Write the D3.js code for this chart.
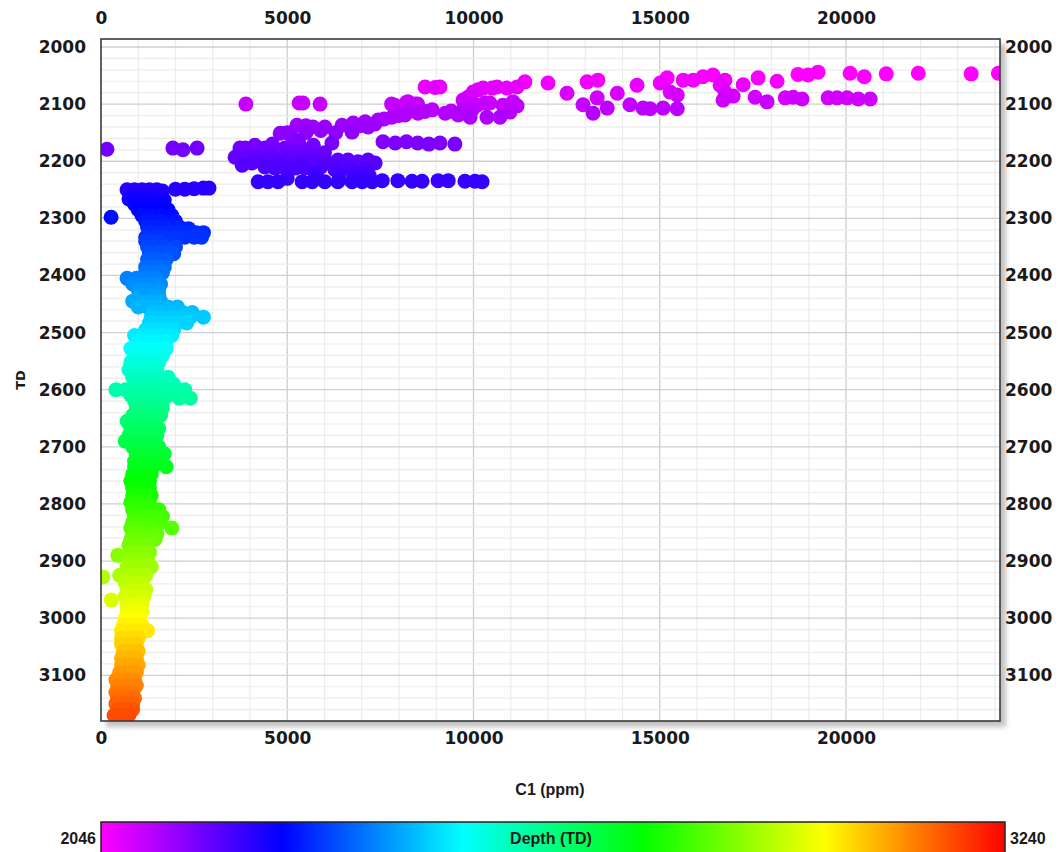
<!DOCTYPE html>
<html><head><meta charset="utf-8">
<script src="https://cdn.jsdelivr.net/npm/d3@7"></script>
<style>
html,body{margin:0;padding:0;background:#fff;overflow:hidden}
svg{display:block}
.tick text{font-family:"DejaVu Sans",Verdana,sans-serif;font-weight:bold;font-size:17px;fill:#1a1a1a}
</style></head><body>
<svg id="chart" width="1064" height="852"></svg>
<script>
// ---- Data (C1 ppm, TD) ----
const xTicks = [0, 5000, 10000, 15000, 20000];
const yTicks = [2000, 2100, 2200, 2300, 2400, 2500, 2600, 2700, 2800, 2900, 3000, 3100];
const colorDomain = [2046, 3240];
const xDomain = [0, 24134];
const yDomain = [1986, 3180];

const shallowPoints = [
  [8700,2070],[9100,2070],[8970,2071],[9720,2093],[9990,2079],[10260,2072],[10630,2070],[10900,2072],
  [11170,2070],[11380,2061],[9720,2110],[10100,2102],[10440,2098],[10790,2102],[11060,2096],
  [9910,2123],[10360,2123],[10710,2123],[10980,2114],[11170,2103],[12000,2063],[12510,2081],
  [13050,2061],[13340,2058],[12940,2101],[13320,2089],[13590,2107],[13210,2116],[13860,2081],
  [14390,2067],[14200,2101],[14550,2107],[14740,2108],[15010,2063],[15200,2054],[15280,2079],
  [15470,2084],[15090,2107],[15470,2108],[15630,2058],[15900,2058],[16160,2052],[16430,2049],
  [16620,2067],[16750,2079],[16750,2058],[17240,2066],[17640,2054],[18150,2060],[18710,2048],
  [18980,2049],[19250,2044],[20110,2046],[20490,2052],[21080,2047],[21940,2046],[23360,2047],
  [24090,2046],[16700,2093],[16970,2086],[17560,2088],[17880,2096],[18370,2089],[18580,2088],
  [18820,2091],[19520,2089],[19760,2089],[20030,2089],[20330,2091],[20650,2091],
  [3890,2100],[5320,2098],[5420,2098],[5880,2100],[7800,2100],[8200,2097],[8500,2100]
];

const bandPoints = [
  [4810,2151],[5260,2137],[5690,2140],[6010,2140],[6200,2168],[6470,2137],[6770,2133],[7090,2131],
  [7440,2128],[7810,2123],[8160,2119],[8510,2116],[8890,2110],[9240,2116],[9590,2119],[9960,2110],
  [10310,2098],[9850,2088],[10120,2075],[10500,2072],[7890,2102],[8240,2096],[8430,2100],
  [6740,2149],[7170,2140],[5500,2138],[5000,2150],[5900,2146],[6300,2150],[7600,2126],[8000,2120],
  [6950,2138],[7350,2135],[8300,2112],[8700,2113],[9400,2112],[5500,2150],
  [7570,2166],[7900,2168],[8200,2166],[8500,2168],[8800,2170],[9100,2168],[9500,2170],
  [3600,2193],[3730,2177],[3870,2177],[4130,2172],[4400,2177],[3790,2207],[4050,2203],[4200,2193],
  [4670,2180],[4940,2177],[5210,2184],[5480,2180],[4480,2198],[4750,2198],[5020,2198],[5290,2198],
  [5560,2198],[4400,2210],[4670,2212],[4940,2212],[5210,2212],[5480,2212],[5830,2193],[6100,2203],
  [6360,2198],[6630,2198],[6900,2201],[7170,2198],[7360,2203],[6280,2215],[6740,2215],[7090,2215],
  [5750,2221],[5000,2188],[5600,2186],[4550,2190],[4300,2200],[5300,2165],[5700,2172],[5150,2160],
  [3950,2190],[4800,2205],[5350,2205],[5900,2210],[6500,2208],[6000,2185],[5700,2200],[4600,2170],
  [4220,2236],[4480,2236],[4750,2236],[5400,2236],[5670,2236],[6010,2236],[6360,2236],[6740,2236],
  [7010,2236],[7280,2236],[7550,2234],[7970,2234],[8350,2235],[8620,2235],[9050,2234],[9320,2234],
  [9770,2235],[10040,2235],[10230,2236],[6400,2224],[6800,2224],[7200,2225],[5000,2230],[5800,2228],
  [160,2179],[1930,2177],[2200,2180],[2580,2177],
  [2000,2249],[2250,2249],[2500,2248],[2750,2247],[2900,2247]
];

const columnPoints = [
  [700,2250],[900,2250],[1100,2250],[1300,2250],[1500,2250],[1650,2252],
  [800,2258],[1050,2258],[1300,2258],[1550,2258],
  [750,2266],[1000,2266],[1250,2266],[1500,2266],[1700,2268],
  [900,2275],[1150,2275],[1400,2275],[1650,2275],
  [1000,2285],[1250,2285],[1500,2285],[1800,2285],
  [270,2298],[1100,2295],[1350,2295],[1600,2295],[1900,2295],
  [1200,2305],[1400,2305],[1650,2305],[2000,2305],
  [1250,2315],[1500,2315],[1750,2315],[2100,2315],[2350,2318],
  [1300,2325],[1550,2325],[1800,2325],[2050,2325],[2300,2325],[2550,2325],[2750,2325],
  [1200,2333],[1450,2333],[1700,2333],[2000,2333],[2250,2333],[2500,2333],[2700,2333],
  [1200,2340],[1400,2340],[1600,2340],
  [1250,2350],[1450,2350],[1700,2350],[2000,2350],
  [1300,2360],[1550,2360],[1800,2360],[1950,2362],
  [1250,2372],[1500,2372],[1750,2372],
  [1200,2385],[1450,2385],[1700,2385],
  [1200,2395],[1450,2395],[1650,2395],
  [700,2405],[950,2405],[1200,2405],[1450,2405],
  [850,2415],[1100,2415],[1350,2415],[1600,2415],
  [1000,2425],[1250,2425],[1550,2425],
  [1050,2435],[1300,2435],[1550,2435],
  [850,2445],[1100,2445],[1350,2445],[1600,2445],
  [1000,2455],[1250,2455],[1500,2455],[1800,2455],[2050,2455],
  [1400,2465],[1650,2465],[1900,2465],[2200,2465],[2450,2465],
  [1350,2473],[1600,2473],[1900,2473],[2150,2473],[2400,2473],[2750,2473],
  [1300,2483],[1550,2483],[1800,2483],[2050,2483],[2300,2483],
  [1200,2495],[1450,2495],[1700,2495],[1950,2495],
  [900,2505],[1150,2505],[1400,2505],[1650,2505],[1900,2505],
  [1000,2515],[1250,2515],[1500,2515],[1750,2515],
  [800,2528],[1050,2528],[1300,2528],[1550,2528],[1750,2528],
  [900,2540],[1150,2540],[1400,2540],[1650,2540],
  [800,2552],[1050,2552],[1300,2552],[1550,2552],
  [750,2565],[1000,2565],[1250,2565],[1500,2565],
  [850,2578],[1100,2578],[1350,2578],[1600,2578],[1800,2578],
  [900,2590],[1150,2590],[1400,2590],[1700,2590],[1950,2590],
  [400,2600],[650,2600],[900,2600],[1150,2600],[1400,2600],[1700,2600],[1950,2600],[2250,2600],
  [800,2610],[1050,2610],[1300,2610],[1550,2610],[1800,2610],
  [900,2620],[1150,2620],[1400,2620],[1650,2620],[2100,2615],[2400,2615],
  [950,2632],[1200,2632],[1450,2632],[1650,2632],
  [850,2645],[1100,2645],[1350,2645],[1600,2645],
  [700,2655],[950,2655],[1200,2655],[1450,2655],
  [800,2668],[1050,2668],[1300,2668],[1550,2668],
  [750,2680],[1000,2680],[1250,2680],[1500,2680],
  [650,2690],[900,2690],[1150,2690],[1400,2690],
  [850,2700],[1100,2700],[1350,2700],[1550,2700],
  [950,2712],[1200,2712],[1450,2712],[1700,2712],
  [900,2725],[1150,2725],[1400,2725],[1650,2725],
  [900,2735],[1150,2735],[1400,2735],[1750,2735],
  [850,2748],[1100,2748],[1350,2748],
  [800,2760],[1050,2760],[1300,2760],
  [850,2772],[1100,2772],[1300,2772],
  [850,2785],[1100,2785],[1350,2785],
  [800,2797],[1050,2797],[1300,2797],
  [850,2810],[1100,2810],[1350,2810],[1550,2810],
  [900,2822],[1150,2822],[1400,2822],[1650,2822],
  [850,2832],[1100,2832],[1350,2832],[1600,2832],
  [800,2842],[1050,2842],[1300,2842],[1900,2842],
  [850,2852],[1100,2852],[1350,2852],[1500,2852],
  [800,2862],[1050,2862],[1300,2862],[1450,2862],
  [750,2872],[1000,2872],[1250,2872],
  [800,2885],[1050,2885],[1300,2885],[450,2890],
  [750,2898],[1000,2898],[1250,2898],
  [700,2910],[950,2910],[1200,2910],[1350,2910],
  [50,2928],[500,2925],[750,2925],[1000,2925],[1200,2925],
  [650,2938],[900,2938],[1100,2938],
  [700,2950],[950,2950],[1200,2950],
  [650,2962],[900,2962],[1150,2962],[280,2968],
  [700,2975],[950,2975],[1100,2975],
  [700,2988],[900,2988],[1100,2988],
  [650,3000],[900,3000],[1050,3000],
  [600,3012],[850,3012],[1100,3012],
  [550,3022],[800,3022],[1050,3022],[1250,3022],
  [550,3035],[800,3035],[1000,3035],
  [550,3045],[750,3045],[950,3045],
  [600,3058],[850,3058],[1000,3058],
  [550,3070],[800,3070],[950,3070],
  [550,3082],[800,3082],[1000,3082],
  [500,3095],[750,3095],[950,3095],
  [400,3108],[650,3108],[900,3108],
  [450,3118],[700,3118],[950,3118],
  [400,3130],[650,3130],[850,3130],
  [450,3140],[700,3140],[900,3140],
  [400,3150],[650,3150],[850,3150],
  [450,3160],[650,3160],[850,3160],
  [350,3170],[550,3170],[750,3170]
];

// ---- Layout ----
const svg = d3.select("#chart");
const L = 101, T = 39, R = 1000, B = 721;

const x = d3.scaleLinear().domain(xDomain).range([L, R]);
const y = d3.scaleLinear().domain(yDomain).range([T, B]);
const hue = d3.scaleLinear().domain(colorDomain).range([300, 0]).clamp(true);
const color = v => d3.hsl(hue(v), 1, 0.5).formatHex();

const defs = svg.append("defs");
const blur = defs.append("filter").attr("id","shadow").attr("x","-5%").attr("y","-5%").attr("width","110%").attr("height","110%");
blur.append("feGaussianBlur").attr("stdDeviation", 2.5);
const clip = defs.append("clipPath").attr("id","plotclip");
clip.append("rect").attr("x", L).attr("y", T).attr("width", R - L).attr("height", B - T);

// shadow
svg.append("rect").attr("x", L + 5).attr("y", T + 5).attr("width", R - L + 1).attr("height", B - T + 1)
  .attr("fill", "#9a9a9a").attr("opacity", 0.6).attr("filter", "url(#shadow)");
svg.append("rect").attr("x", L).attr("y", T).attr("width", R - L).attr("height", B - T).attr("fill", "#fff");

// grid
const g = svg.append("g").attr("clip-path", "url(#plotclip)");
const xMinor = d3.range(1000, xDomain[1], 1000);
const yMinor = d3.range(1980, yDomain[1], 20);
g.selectAll(".xm").data(xMinor).join("line")
  .attr("x1", d => x(d)).attr("x2", d => x(d)).attr("y1", T).attr("y2", B)
  .attr("stroke", d => d % 5000 === 0 ? "#cfcfcf" : "#ececec").attr("stroke-width", d => d % 5000 === 0 ? 1.3 : 1.2);
g.selectAll(".ym").data(yMinor).join("line")
  .attr("y1", d => y(d)).attr("y2", d => y(d)).attr("x1", L).attr("x2", R)
  .attr("stroke", d => d % 100 === 0 ? "#cfcfcf" : "#ececec").attr("stroke-width", d => d % 100 === 0 ? 1.3 : 1.2);

// points
const all = shallowPoints.concat(bandPoints, columnPoints).slice().sort((a, b) => a[1] - b[1]);
g.selectAll("circle.pt").data(all).join("circle")
  .attr("class", "pt")
  .attr("cx", d => x(d[0])).attr("cy", d => y(d[1])).attr("r", 7.5)
  .attr("fill", d => color(d[1]));

// frame
svg.append("rect").attr("x", L).attr("y", T).attr("width", R - L).attr("height", B - T)
  .attr("fill", "none").attr("stroke", "#3a3a3a").attr("stroke-width", 1.6);

// axes
const fmt = d3.format("d");
const axB = svg.append("g").attr("transform", `translate(0,${B})`)
  .call(d3.axisBottom(x).tickValues(xTicks).tickFormat(fmt).tickSize(0).tickPadding(14));
const axT = svg.append("g").attr("transform", `translate(0,${T})`)
  .call(d3.axisTop(x).tickValues(xTicks).tickFormat(fmt).tickSize(0).tickPadding(14));
const axL = svg.append("g").attr("transform", `translate(${L},0)`)
  .call(d3.axisLeft(y).tickValues(yTicks).tickFormat(fmt).tickSize(0).tickPadding(15));
const axR = svg.append("g").attr("transform", `translate(${R},0)`)
  .call(d3.axisRight(y).tickValues(yTicks).tickFormat(fmt).tickSize(0).tickPadding(5));
[axB, axT, axL, axR].forEach(a => a.select(".domain").remove());
axB.selectAll("text").attr("dy", "0.55em");
axT.selectAll("text").attr("dy", "-0.05em");

// axis titles
svg.append("text").attr("x", 550).attr("y", 795).attr("text-anchor", "middle")
  .attr("font-family", "'Liberation Sans Narrow','Arial Narrow','Liberation Sans',sans-serif")
  .attr("font-weight", "bold").attr("font-size", 16).attr("fill", "#1a1a1a").text("C1 (ppm)");
svg.append("text").attr("transform", "translate(25,380) rotate(-90)").attr("text-anchor", "middle")
  .attr("font-family", "'DejaVu Sans',Verdana,sans-serif")
  .attr("font-weight", "bold").attr("font-size", 13).attr("fill", "#1a1a1a").text("TD");

// colour bar
const cbL = 101, cbR = 1005, cbT = 822, cbH = 34;
const grad = defs.append("linearGradient").attr("id", "depthGrad").attr("x1", "0%").attr("x2", "100%");
const stops = d3.range(0, 1.0001, 0.05);
grad.selectAll("stop").data(stops).join("stop")
  .attr("offset", d => (d * 100) + "%")
  .attr("stop-color", d => color(colorDomain[0] + d * (colorDomain[1] - colorDomain[0])));
svg.append("rect").attr("x", cbL).attr("y", cbT).attr("width", cbR - cbL).attr("height", cbH)
  .attr("fill", "url(#depthGrad)").attr("stroke", "#222").attr("stroke-width", 1.5);
const narrow = "'Liberation Sans Narrow','Arial Narrow','Liberation Sans',sans-serif";
svg.append("text").attr("x", cbL - 5).attr("y", 844).attr("text-anchor", "end")
  .attr("font-family", narrow).attr("font-weight", "bold").attr("font-size", 16).attr("fill", "#1a1a1a")
  .text(colorDomain[0]);
svg.append("text").attr("x", cbR + 5).attr("y", 844).attr("text-anchor", "start")
  .attr("font-family", narrow).attr("font-weight", "bold").attr("font-size", 16).attr("fill", "#1a1a1a")
  .text(colorDomain[1]);
svg.append("text").attr("x", 551).attr("y", 844).attr("text-anchor", "middle")
  .attr("font-family", narrow).attr("font-weight", "bold").attr("font-size", 16).attr("fill", "#1a1a1a")
  .text("Depth (TD)");
</script>
</body></html>
